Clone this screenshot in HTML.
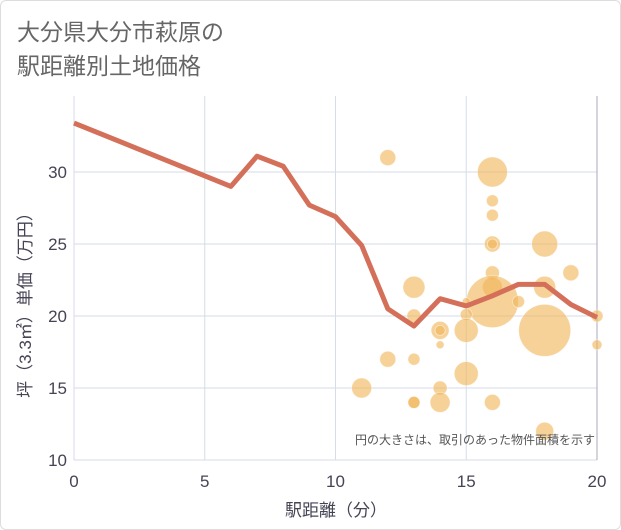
<!DOCTYPE html>
<html><head><meta charset="utf-8"><style>
body{margin:0;background:#fff;}
#wrap{position:relative;width:619px;height:528px;border:1px solid #ddd;border-radius:6px;background:#fff;overflow:hidden;font-family:"Liberation Sans","Noto Sans CJK JP",sans-serif;}
#title{position:absolute;left:16px;top:14px;font-size:23px;line-height:34px;color:#666;}
</style></head><body>
<div id="wrap">
<div id="title">大分県大分市萩原の<br>駅距離別土地価格</div>
<svg id="chart" width="621" height="530" style="position:absolute;left:0;top:0"></svg>
</div>
<script>
const xTicks=[0,5,10,15,20];
const yTicks=[10,15,20,25,30];
const lineX=[0,6,7,8,9,10,11,12,13,14,15,16,17,18,19,20];
const lineY=[33.4,29,31.1,30.4,27.7,26.9,24.9,20.5,19.3,21.2,20.7,21.4,22.2,22.2,20.8,19.9];
const bubX=[12,16,16,16,16,16,18,16,16,16,17,18,19,13,13,14,14,14,15,15,15,18,20,20,12,13,11,14,15,13,13,14,16,18];
const bubY=[31,30,28,27,25,25,25,23,22,21,21,22,23,22,20,19,19,18,21,20.1,19,19,20,18,17,17,15,15,16,14,14,14,14,12];
const bubR=[8,15,6,6,8,5,13,7,10,26,6,11,8,11,7,9,5,4,4,6,12,26,6,5,8,6,10,7,12,6,6,10,8,9];
const NS="http://www.w3.org/2000/svg";
const svg=document.getElementById('chart');
const L=73,R=596,T=95,B=459;
const xs=v=>L+(v-0)/(20-0)*(R-L);
const ys=v=>459-(v-10)*14.4;
function mk(t,a){const e=document.createElementNS(NS,t);for(const k in a)e.setAttribute(k,a[k]);svg.appendChild(e);return e;}
xTicks.forEach(v=>{
 const g=mk('line',{x1:xs(v),x2:xs(v),y1:T,y2:B,stroke:'#d5dde8','stroke-width':1});
 
 
 const t=mk('text',{x:xs(v),y:486,'text-anchor':'middle','font-size':17,fill:'#445'});t.textContent=v;
 
 
});
yTicks.forEach(v=>{
 const g=mk('line',{x1:L,x2:R,y1:ys(v),y2:ys(v),stroke:'#d5dde8','stroke-width':1});
 
 
 const t=mk('text',{x:66,y:ys(v)+6,'text-anchor':'end','font-size':17,fill:'#445'});t.textContent=v;
 
 
});
const ax=mk('line',{x1:R,x2:R,y1:T,y2:B,stroke:'#aab','stroke-width':1});


bubX.forEach((v,i)=>{
 const c=mk('circle',{cx:xs(v),cy:ys(bubY[i]),r:bubR[i],fill:'#f0b455','fill-opacity':0.6,stroke:'#fff','stroke-width':0.8,'stroke-opacity':0.5});
 
 
});
const p=mk('polyline',{points:lineX.map((v,i)=>xs(v)+','+ys(lineY[i])).join(' '),fill:'none',stroke:'#d4705a','stroke-width':5,'stroke-linejoin':'round'});


const n=mk('text',{x:594,y:443,'text-anchor':'end','font-size':12,fill:'#555'});n.textContent='円の大きさは、取引のあった物件面積を示す';


const xl=mk('text',{x:335,y:515,'text-anchor':'middle','font-size':17,fill:'#445'});xl.textContent='駅距離（分）';


const yl=mk('text',{x:0,y:0,'text-anchor':'middle','font-size':17,fill:'#445',transform:'translate(30,300) rotate(-90)'});yl.textContent='坪（3.3㎡）単価（万円）';


</script>
</body></html>
